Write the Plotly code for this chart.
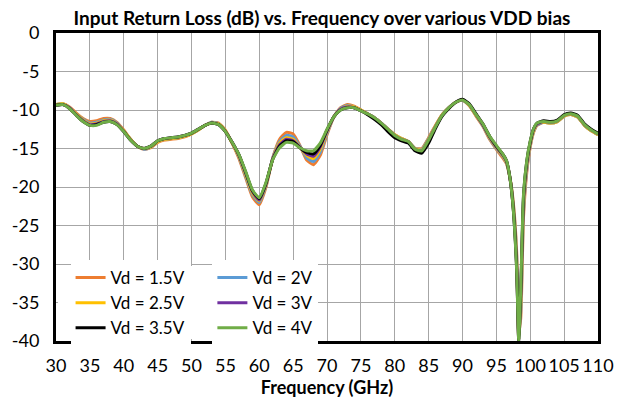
import plotly.graph_objects as go

freq = [30, 31, 32, 33, 34, 35, 36, 37, 38, 39, 40, 41, 42, 43, 44, 45, 46, 47, 48, 49,
        50, 51, 52, 53, 54, 55, 56, 57, 58, 59, 60, 61, 62, 63, 64, 65, 66, 67, 68, 69,
        70, 71, 72, 73, 74, 75, 76, 77, 78, 79, 80, 81, 82, 83, 84, 85, 86, 87, 88, 89,
        90, 91, 92, 93, 94, 95, 96, 96.5, 97, 97.5, 98, 98.3, 98.6, 99, 99.5, 100, 100.5, 101,
        102, 103, 104, 105, 106, 107, 108, 109, 110]

vd_1p5 = [-9.3, -9.2, -9.6, -10.4, -11.1, -11.5, -11.4, -11.1, -11.1, -11.6,
          -12.6, -13.8, -14.7, -15.1, -14.9, -14.2, -13.9, -13.8, -13.7, -13.5,
          -13.1, -12.6, -12.0, -11.6, -11.7, -12.6, -14.3, -16.3, -18.8, -21.3,
          -22.3, -20.0, -16.2, -13.8, -12.9, -13.1, -14.6, -16.5, -17.1, -15.9,
          -13.2, -10.9, -9.7, -9.3, -9.5, -10.0, -10.5, -11.0, -11.7, -12.5,
          -13.2, -13.7, -14.1, -15.0, -15.0, -13.6, -12.0, -10.6, -9.7, -9.0,
          -8.7, -9.4, -10.8, -12.1, -13.8, -15.1, -16.3, -17.0, -18.8, -22.0,
          -28.5, -39.0, -37.0, -24.0, -18.0, -14.8, -12.9, -12.0,
          -11.6, -11.7, -11.5, -10.8, -10.6, -10.9, -12.0, -12.7, -13.2]

vd_2 = [-9.3, -9.2, -9.7, -10.5, -11.2, -11.7, -11.6, -11.3, -11.2, -11.7,
        -12.7, -13.8, -14.7, -15.1, -14.8, -14.1, -13.8, -13.7, -13.6, -13.4,
        -13.1, -12.6, -12.0, -11.6, -11.8, -12.7, -14.3, -16.1, -18.6, -21.0,
        -22.0, -19.8, -16.2, -14.1, -13.3, -13.5, -14.7, -16.2, -16.7, -15.5,
        -13.0, -10.9, -9.8, -9.4, -9.6, -10.0, -10.5, -11.0, -11.7, -12.5,
        -13.2, -13.7, -14.1, -15.0, -15.1, -13.7, -12.1, -10.6, -9.7, -9.0,
        -8.7, -9.4, -10.7, -12.0, -13.7, -15.0, -16.1, -16.9, -18.8, -22.3,
        -29.2, -39.5, -36.0, -23.2, -17.6, -14.6, -12.8, -11.9,
        -11.6, -11.7, -11.5, -10.8, -10.6, -10.9, -12.0, -12.7, -13.2]

vd_2p5 = [-9.3, -9.2, -9.7, -10.5, -11.3, -11.8, -11.7, -11.4, -11.3, -11.8,
          -12.7, -13.8, -14.7, -15.0, -14.8, -14.1, -13.8, -13.7, -13.6, -13.4,
          -13.1, -12.6, -12.0, -11.7, -11.8, -12.7, -14.3, -16.0, -18.4, -20.8,
          -21.8, -19.7, -16.3, -14.3, -13.6, -13.8, -14.8, -15.9, -16.3, -15.1,
          -12.8, -10.9, -9.9, -9.5, -9.6, -10.0, -10.5, -11.0, -11.7, -12.5,
          -13.2, -13.7, -14.1, -15.0, -15.2, -13.8, -12.1, -10.6, -9.7, -9.0,
          -8.7, -9.4, -10.7, -11.9, -13.6, -14.9, -16.0, -16.8, -18.8, -22.5,
          -29.8, -39.8, -35.0, -22.5, -17.2, -14.4, -12.7, -11.8,
          -11.6, -11.7, -11.5, -10.8, -10.6, -10.9, -12.0, -12.7, -13.2]

vd_3 = [-9.4, -9.3, -9.7, -10.6, -11.4, -11.9, -11.8, -11.5, -11.4, -11.8,
        -12.8, -13.9, -14.7, -15.0, -14.7, -14.0, -13.7, -13.6, -13.5, -13.3,
        -13.0, -12.5, -12.0, -11.7, -11.9, -12.8, -14.2, -15.9, -18.2, -20.6,
        -21.7, -19.6, -16.3, -14.5, -13.8, -14.0, -14.8, -15.7, -16.0, -14.8,
        -12.7, -10.9, -9.9, -9.6, -9.7, -10.1, -10.5, -11.0, -11.7, -12.5,
        -13.3, -13.8, -14.1, -15.1, -15.3, -13.9, -12.2, -10.7, -9.7, -9.0,
        -8.7, -9.3, -10.6, -11.9, -13.5, -14.8, -15.9, -16.7, -18.8, -22.8,
        -30.4, -40.0, -34.0, -21.8, -16.9, -14.2, -12.5, -11.8,
        -11.5, -11.6, -11.4, -10.7, -10.5, -10.8, -11.9, -12.6, -13.1]

vd_3p5 = [-9.4, -9.3, -9.8, -10.7, -11.5, -12.0, -11.9, -11.6, -11.5, -11.9,
          -12.8, -13.9, -14.7, -15.0, -14.7, -14.0, -13.7, -13.6, -13.5, -13.3,
          -13.0, -12.5, -12.0, -11.7, -11.9, -12.8, -14.2, -15.8, -18.1, -20.5,
          -21.5, -19.5, -16.4, -14.7, -14.0, -14.1, -14.9, -15.5, -15.7, -14.6,
          -12.6, -10.9, -10.0, -9.7, -9.7, -10.1, -10.6, -11.2, -11.9, -12.8,
          -13.6, -14.0, -14.3, -15.3, -15.6, -14.3, -12.4, -10.8, -9.8, -9.0,
          -8.6, -9.2, -10.5, -11.8, -13.4, -14.7, -15.8, -16.6, -18.8, -22.9,
          -30.8, -40.0, -33.5, -21.3, -16.6, -14.1, -12.4, -11.7,
          -11.4, -11.5, -11.3, -10.6, -10.4, -10.7, -11.8, -12.5, -13.0]

vd_4 = [-9.4, -9.3, -9.8, -10.7, -11.5, -12.0, -12.0, -11.6, -11.5, -11.9,
        -12.8, -13.9, -14.7, -15.0, -14.7, -14.0, -13.7, -13.6, -13.5, -13.3,
        -13.0, -12.5, -12.0, -11.7, -11.9, -12.8, -14.2, -15.8, -18.0, -20.4,
        -21.4, -19.4, -16.4, -14.9, -14.2, -14.3, -14.9, -15.3, -15.3, -14.3,
        -12.5, -10.9, -10.0, -9.7, -9.7, -10.1, -10.5, -11.0, -11.7, -12.5,
        -13.3, -13.8, -14.1, -15.1, -15.3, -13.9, -12.2, -10.7, -9.7, -9.0,
        -8.7, -9.3, -10.6, -11.8, -13.4, -14.6, -15.8, -16.6, -18.8, -23.0,
        -31.0, -40.0, -33.0, -21.0, -16.5, -14.0, -12.4, -11.7,
        -11.5, -11.6, -11.4, -10.7, -10.5, -10.8, -11.9, -12.6, -13.1]

series_names = ["Vd = 1.5V", "Vd = 2V", "Vd = 2.5V", "Vd = 3V", "Vd = 3.5V", "Vd = 4V"]
series_values = [vd_1p5, vd_2, vd_2p5, vd_3, vd_3p5, vd_4]
series_colors = ["#ED7D31", "#5B9BD5", "#FFC000", "#7030A0", "#000000", "#70AD47"]
legend_column = ["legend", "legend2", "legend", "legend2", "legend", "legend2"]

x_ticks = list(range(30, 111, 5))
y_ticks = list(range(-40, 1, 5))

FONT = "Lato"

# plot area in pixels (for placing legend boxes)
PL, PR, PT, PB = 50, 608, 33, 341
def px_x(p):
    return (p - PL) / (PR - PL)
def px_y(p):
    return (PB - p) / (PB - PT)

fig = go.Figure()
for name, vals, col, lg in zip(series_names, series_values, series_colors, legend_column):
    fig.add_trace(go.Scatter(
        x=freq, y=vals, name=name, mode="lines", legend=lg,
        line=dict(color=col, width=3, shape="spline", smoothing=0.5),
    ))

legend_common = dict(orientation="v", xanchor="left", yanchor="top",
                     bgcolor="white", borderwidth=0, traceorder="normal",
                     font=dict(family=FONT, size=17, color="#000000"))

fig.update_layout(
    width=626, height=406,
    margin=dict(l=PL, r=626 - PR, t=PT, b=406 - PB),
    paper_bgcolor="white", plot_bgcolor="white",
    font=dict(family=FONT, size=18, color="#000000"),
    title=dict(text="<b>Input Return Loss (dB) vs. Frequency over various VDD bias</b>",
               xref="container", x=322 / 626, xanchor="center",
               yref="container", y=1 - 18 / 406, yanchor="middle",
               font=dict(family=FONT, size=19, color="#000000")),
    legend=dict(x=px_x(65), y=px_y(260), **legend_common),
    legend2=dict(x=px_x(211), y=px_y(260), **legend_common),
    showlegend=True,
    shapes=[dict(type="rect", xref="paper", yref="paper", layer="above",
                 x0=px_x(52), x1=px_x(300), y0=px_y(339), y1=px_y(266),
                 fillcolor="white", line=dict(width=0))],
)
fig.update_xaxes(
    range=[30, 110], tickvals=x_ticks, ticktext=[str(v) for v in x_ticks],
    showgrid=True, gridcolor="#A6A6A6", gridwidth=1,
    showline=True, linecolor="black", linewidth=3, mirror=True,
    ticks="", zeroline=False, ticklabelstandoff=6,
    tickfont=dict(family=FONT, size=18),
    title=dict(text="<b>Frequency (GHz)</b>", font=dict(family=FONT, size=18), standoff=4),
)
fig.update_yaxes(
    range=[-40, 0], tickvals=y_ticks, ticktext=[str(v) for v in y_ticks],
    showgrid=True, gridcolor="#A6A6A6", gridwidth=1,
    showline=True, linecolor="black", linewidth=3, mirror=True,
    ticks="", zeroline=False, ticklabelstandoff=10,
    tickfont=dict(family=FONT, size=18),
)

fig.write_html("out.html", config={"displayModeBar": False},
               post_script="document.body.style.margin='0';document.body.style.padding='0';")
